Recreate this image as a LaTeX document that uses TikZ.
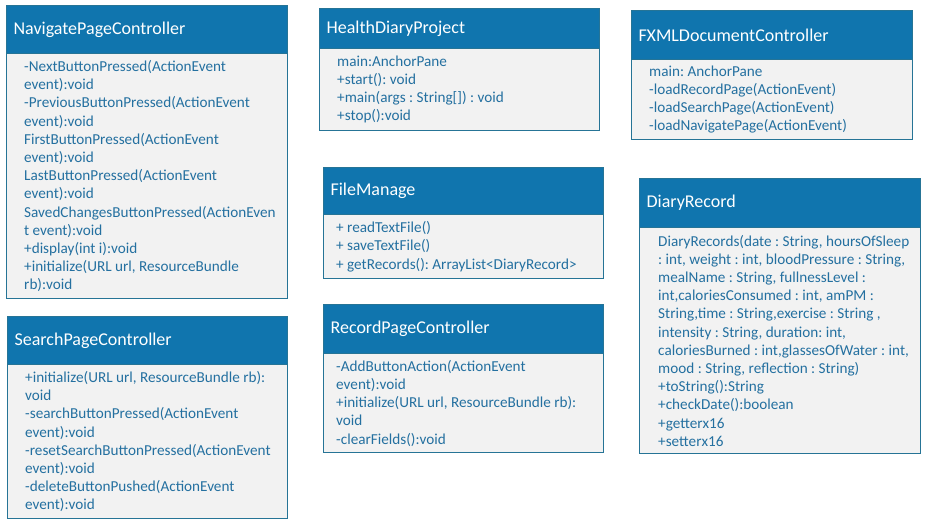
\documentclass[tikz,border=0pt]{standalone}
\usepackage{fontspec}
\setmainfont{Carlito}
\frenchspacing
\definecolor{headblue}{RGB}{16,117,174}
\definecolor{edgeblue}{RGB}{38,116,150}
\definecolor{bodygray}{RGB}{242,242,242}
\definecolor{textblue}{RGB}{36,112,160}
\tikzset{
  classhead/.style={anchor=north west, fill=headblue, draw=edgeblue, line width=1.2pt,
    text=white, font=\fontsize{18}{21}\selectfont, align=left, inner xsep=7pt, inner ysep=0pt},
  classbody/.style={anchor=north west, fill=bodygray, draw=edgeblue, line width=1.2pt, inner sep=0pt},
  members/.style={anchor=west, text=textblue, font=\fontsize{15.2}{18.2}\selectfont, align=left, inner sep=0pt}
}
\begin{document}
\begin{tikzpicture}[x=1pt,y=-1pt]
    \useasboundingbox (0,0) rectangle (936,525);

    \node (navbody) at (6,53) [classbody, minimum width=281pt, minimum height=245pt] {};
    \node (navhead) at (6,5) [classhead, text width=267pt, minimum height=48pt] {NavigatePageController};
    \node (navtext) at ([xshift=18pt]navbody.west) [members] {-NextButtonPressed(ActionEvent\\event):void\\-PreviousButtonPressed(ActionEvent\\event):void\\FirstButtonPressed(ActionEvent\\event):void\\LastButtonPressed(ActionEvent\\event):void\\SavedChangesButtonPressed(ActionEven\\t event):void\\+display(int i):void\\+initialize(URL url, ResourceBundle\\rb):void};

    \node (healthbody) at (319,48) [classbody, minimum width=280pt, minimum height=82pt] {};
    \node (healthhead) at (319,8) [classhead, text width=266pt, minimum height=40pt] {HealthDiaryProject};
    \node (healthtext) at ([xshift=18pt]healthbody.west) [members] {main:AnchorPane\\+start(): void\\+main(args : String[]) : void\\+stop():void};

    \node (fxmlbody) at (631,59) [classbody, minimum width=281pt, minimum height=80pt] {};
    \node (fxmlhead) at (631,10) [classhead, text width=267pt, minimum height=49pt] {FXMLDocumentController};
    \node (fxmltext) at ([xshift=18pt]fxmlbody.west) [members] {main: AnchorPane\\-loadRecordPage(ActionEvent)\\-loadSearchPage(ActionEvent)\\-loadNavigatePage(ActionEvent)};

    \node (filebody) at (323,214) [classbody, minimum width=280pt, minimum height=64pt] {};
    \node (filehead) at (323,167) [classhead, text width=266pt, minimum height=47pt] {FileManage};
    \node (filetext) at ([xshift=13pt]filebody.west) [members] {+ readTextFile()\\+ saveTextFile()\\+ getRecords(): ArrayList<DiaryRecord>};

    \node (searchbody) at (7,364) [classbody, minimum width=280pt, minimum height=154pt] {};
    \node (searchhead) at (7,316) [classhead, text width=266pt, minimum height=48pt] {SearchPageController};
    \node (searchtext) at ([xshift=18pt]searchbody.west) [members] {+initialize(URL url, ResourceBundle rb):\\void\\-searchButtonPressed(ActionEvent\\event):void\\-resetSearchButtonPressed(ActionEvent\\event):void\\-deleteButtonPushed(ActionEvent\\event):void};

    \node (recordbody) at (323,353) [classbody, minimum width=280pt, minimum height=99pt] {};
    \node (recordhead) at (323,304) [classhead, text width=266pt, minimum height=49pt] {RecordPageController};
    \node (recordtext) at ([xshift=13pt]recordbody.west) [members] {-AddButtonAction(ActionEvent\\event):void\\+initialize(URL url, ResourceBundle rb):\\void\\-clearFields():void};

    \node (diarybody) at (639,227) [classbody, minimum width=281pt, minimum height=226pt] {};
    \node (diaryhead) at (639,178) [classhead, text width=267pt, minimum height=49pt] {DiaryRecord};
    \node (diarytext) at ([xshift=19pt]diarybody.west) [members] {DiaryRecords(date : String, hoursOfSleep\\: int, weight : int, bloodPressure : String,\\mealName : String, fullnessLevel :\\int,caloriesConsumed : int, amPM :\\String,time : String,exercise : String ,\\intensity : String, duration: int,\\caloriesBurned : int,glassesOfWater : int,\\mood : String, reflection : String)\\+toString():String\\+checkDate():boolean\\+getterx16\\+setterx16};

\end{tikzpicture}
\end{document}
